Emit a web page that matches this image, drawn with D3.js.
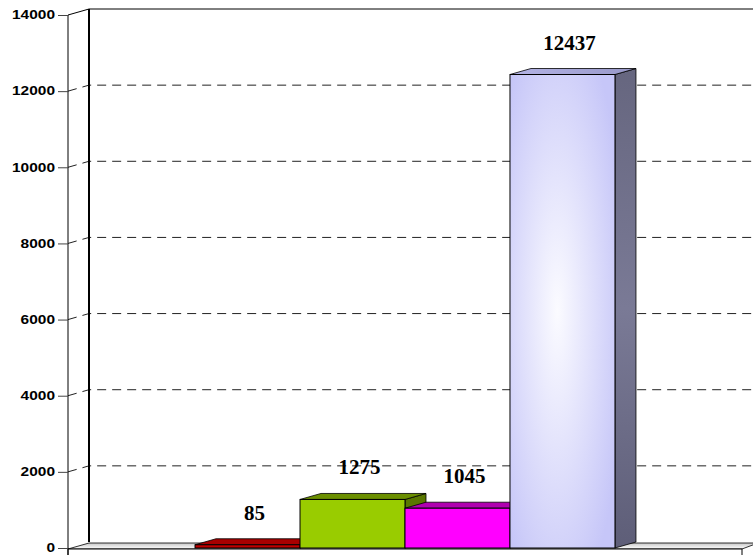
<!DOCTYPE html>
<html>
<head>
<meta charset="utf-8">
<title>Barras 3D</title>
<script src="https://d3js.org/d3.v7.min.js"></script>
<style>
  body { margin: 0; background: #fff; }
  .tick text { font: bold 12px "Liberation Sans", Arial, sans-serif; fill: #000; }
  .rotulo { font: bold 21px "Liberation Serif", "Times New Roman", serif; fill: #000; text-anchor: middle; }
</style>
</head>
<body>
<div id="chart"></div>
<script>
"use strict"

// dados
var categorias = ["A", "B", "C", "D"];
var valores = [85, 1275, 1045, 12437];
var ticksY = [0, 2000, 4000, 6000, 8000, 10000, 12000, 14000];
var cores = [
  {frente: "#c00000", topo: "#a80000", lado: "#800000"},
  {frente: "#99cc00", topo: "#6b8f00", lado: "#5a7800"},
  {frente: "#ff00ff", topo: "#b000b0", lado: "#c000c0"},
  {frente: "url(#lavanda)", topo: "url(#lavandaTopo)", lado: "url(#lavandaLado)"}
];

var largura = 753, altura = 555;
var esq = 68, dir = 742, baixo = 548, cima = 15;
var dx = 21, dy = -6; // profundidade 3D

var svg = d3.select("#chart").append("svg")
    .attr("width", largura)
    .attr("height", altura);

var defs = svg.append("defs");
var rg = defs.append("radialGradient").attr("id", "lavanda")
    .attr("cx", "45%").attr("cy", "50%").attr("r", "65%");
rg.append("stop").attr("offset", "0%").attr("stop-color", "#fbfbff");
rg.append("stop").attr("offset", "100%").attr("stop-color", "#c6c6f8");
var lt = defs.append("linearGradient").attr("id", "lavandaTopo")
    .attr("x1", "0").attr("x2", "1").attr("y1", "0").attr("y2", "0");
lt.append("stop").attr("offset", "0%").attr("stop-color", "#b4b4e6");
lt.append("stop").attr("offset", "100%").attr("stop-color", "#9898c8");
var ll = defs.append("linearGradient").attr("id", "lavandaLado")
    .attr("x1", "0").attr("x2", "0").attr("y1", "0").attr("y2", "1");
ll.append("stop").attr("offset", "0%").attr("stop-color", "#66667f");
ll.append("stop").attr("offset", "50%").attr("stop-color", "#7a7a96");
ll.append("stop").attr("offset", "100%").attr("stop-color", "#5e5e78");
var pg = defs.append("linearGradient").attr("id", "piso")
    .attr("x1", "0").attr("x2", "0").attr("y1", "0").attr("y2", "1");
pg.append("stop").attr("offset", "0%").attr("stop-color", "#c8c8c8");
pg.append("stop").attr("offset", "100%").attr("stop-color", "#ffffff");

// escalas
var x = d3.scaleBand()
    .domain(categorias)
    .range([esq, dir])
    .paddingInner(0)
    .paddingOuter(1.21);

var y = d3.scaleLinear()
    .domain([0, 14000])
    .range([baixo, cima]);

// parede do fundo
svg.append("line")
    .attr("x1", esq + dx).attr("x2", largura + 5)
    .attr("y1", y(14000) + dy).attr("y2", y(14000) + dy)
    .attr("stroke", "#000").attr("stroke-width", 1);
svg.append("line")
    .attr("x1", esq).attr("y1", y(14000))
    .attr("x2", esq + dx).attr("y2", y(14000) + dy)
    .attr("stroke", "#000");

// grade tracejada
svg.selectAll(".grade")
    .data(ticksY.filter(function(d) { return d > 0 && d < 14000; }))
    .enter().append("polyline")
      .attr("class", "grade")
      .attr("points", function(d) {
        return [esq, y(d), esq + dx, y(d) + dy, largura + 5, y(d) + dy].join(" ");
      })
      .attr("fill", "none")
      .attr("stroke", "#222")
      .attr("stroke-dasharray", "9,6");

svg.append("line")
    .attr("x1", esq + dx).attr("x2", esq + dx)
    .attr("y1", y(14000) + dy).attr("y2", baixo + dy)
    .attr("stroke", "#000").attr("stroke-width", 2);

// piso
svg.append("polygon")
    .attr("points", [esq, baixo + 1, esq + dx, baixo + dy + 1, largura + 5, baixo + dy + 1, dir, baixo + 1].join(" "))
    .attr("fill", "url(#piso)")
    .attr("stroke", "#000").attr("stroke-width", 0.8);
svg.append("rect")
    .attr("x", esq).attr("y", baixo + 1)
    .attr("width", dir - esq).attr("height", 12)
    .attr("fill", "#fff").attr("stroke", "#000");

// barras
var barras = svg.selectAll(".barra")
    .data(valores)
    .enter().append("g")
      .attr("class", "barra");

barras.append("polygon")
    .attr("points", function(d, i) {
      var x1 = x(categorias[i]) + x.bandwidth();
      return [x1, y(d), x1 + dx, y(d) + dy, x1 + dx, baixo + dy, x1, baixo].join(" ");
    })
    .attr("fill", function(d, i) { return cores[i].lado; })
    .attr("stroke", "#000").attr("stroke-width", 0.8);

barras.append("polygon")
    .attr("points", function(d, i) {
      var x0 = x(categorias[i]), x1 = x0 + x.bandwidth();
      return [x0, y(d), x0 + dx, y(d) + dy, x1 + dx, y(d) + dy, x1, y(d)].join(" ");
    })
    .attr("fill", function(d, i) { return cores[i].topo; })
    .attr("stroke", "#000").attr("stroke-width", 0.8);

barras.append("rect")
    .attr("x", function(d, i) { return x(categorias[i]); })
    .attr("y", function(d) { return y(d); })
    .attr("width", x.bandwidth())
    .attr("height", function(d) { return baixo - y(d); })
    .attr("fill", function(d, i) { return cores[i].frente; })
    .attr("stroke", "#000").attr("stroke-width", 1);

// rótulos
svg.selectAll(".rotulo")
    .data(valores)
    .enter().append("text")
      .attr("class", "rotulo")
      .attr("x", function(d, i) { return x(categorias[i]) + x.bandwidth() / 2 + dx / 3; })
      .attr("y", function(d) { return y(d) - 25; })
      .text(function(d) { return d; });

// eixo
var eixo = svg.append("g")
    .attr("transform", "translate(" + esq + ",0)")
    .call(d3.axisLeft(y).tickValues(ticksY).tickFormat(d3.format("d")).tickSize(10).tickPadding(3));
eixo.select(".domain").attr("stroke", "#000").attr("d", "M0," + cima + "V" + (altura + 5));
eixo.selectAll(".tick line").attr("stroke", "#444");
eixo.selectAll(".tick text")
    .attr("textLength", function(d) { return String(d).length * 8.6; })
    .attr("lengthAdjust", "spacingAndGlyphs");
</script>
</body>
</html>
